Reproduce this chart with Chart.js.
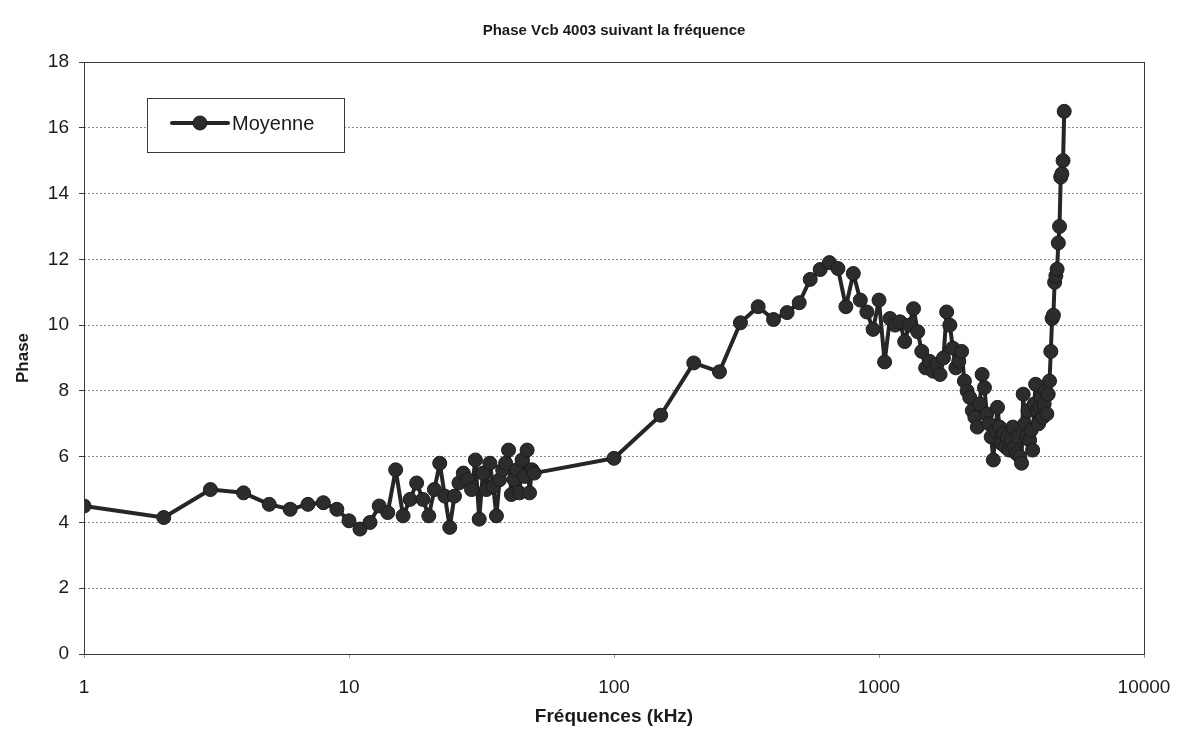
<!DOCTYPE html>
<html>
<head>
<meta charset="utf-8">
<script src="https://cdn.jsdelivr.net/npm/chart.js@4.4.1/dist/chart.umd.min.js"></script>
<style>
  html, body { margin: 0; padding: 0; background: #ffffff; }
  canvas { display: block; }
</style>
</head>
<body>
<canvas id="chart" width="1177" height="733"></canvas>
<script>
// Measurement frequencies (kHz)
const frequencies = [
  1, 2, 3, 4, 5, 6, 7, 8, 9, 10,
  11, 12, 13, 14, 15, 16, 17, 18, 19, 20,
  21, 22, 23, 24, 25, 26, 27, 28, 29, 30,
  31, 32, 33, 34, 35, 36, 37, 38, 39, 40,
  41, 42, 43, 44, 45, 46, 47, 48, 49, 50,
  100, 150, 200, 250, 300, 350, 400, 450, 500, 550,
  600, 650, 700, 750, 800, 850, 900, 950, 1000,
  1050, 1100, 1150, 1200, 1250, 1300, 1350, 1400, 1450, 1500,
  1550, 1600, 1650, 1700, 1750, 1800, 1850, 1900, 1950, 2000,
  2050, 2100, 2150, 2200, 2250, 2300, 2350, 2400, 2450, 2500,
  2550, 2600, 2650, 2700, 2750, 2800, 2850, 2900, 2950, 3000,
  3050, 3100, 3150, 3200, 3250, 3300, 3350, 3400, 3450, 3500,
  3550, 3600, 3650, 3700, 3750, 3800, 3850, 3900, 3950, 4000,
  4050, 4100, 4150, 4200, 4250, 4300, 4350, 4400, 4450, 4500,
  4550, 4600, 4650, 4700, 4750, 4800, 4850, 4900, 4950, 5000
];

// Average phase at each frequency
const phaseMoyenne = [
  4.5, 4.15, 5.0, 4.9, 4.55, 4.4, 4.55, 4.6, 4.4, 4.05,
  3.8, 4.0, 4.5, 4.3, 5.6, 4.2, 4.7, 5.2, 4.7, 4.2,
  5.0, 5.8, 4.8, 3.85, 4.8, 5.2, 5.5, 5.3, 5.0, 5.9,
  4.1, 5.5, 5.0, 5.8, 5.1, 4.2, 5.3, 5.6, 5.8, 6.2,
  4.85, 5.3, 5.6, 4.9, 5.9, 5.4, 6.2, 4.9, 5.6, 5.5,
  5.95, 7.26, 8.85, 8.58, 10.07, 10.56, 10.17, 10.38, 10.68, 11.39,
  11.69, 11.9, 11.72, 10.56, 11.57, 10.76, 10.4, 9.87, 10.76,
  8.88, 10.2, 10.0, 10.1, 9.5, 10.0, 10.5, 9.8, 9.2, 8.7,
  8.9, 8.6, 8.8, 8.5, 9.0, 10.4, 10.0, 9.3, 8.7, 8.9,
  9.2, 8.3, 8.0, 7.8, 7.4, 7.2, 6.9, 7.6, 8.5, 8.1,
  7.3, 7.0, 6.6, 5.9, 6.8, 7.5, 6.9, 6.4, 6.7, 6.3,
  6.6, 6.2, 6.5, 6.9, 6.3, 6.1, 6.6, 6.0, 5.8, 7.9,
  7.0, 6.6, 7.4, 6.5, 6.8, 6.2, 7.6, 8.2, 7.4, 7.0,
  7.5, 7.8, 7.2, 7.6, 8.0, 7.3, 7.9, 8.3, 9.2, 10.2,
  10.3, 11.3, 11.5, 11.7, 12.5, 13.0, 14.5, 14.6, 15.0, 16.5
];

// Axis tick values
const xTickValues = [1, 10, 100, 1000, 10000];
const yTickValues = [0, 2, 4, 6, 8, 10, 12, 14, 16, 18];

const chartTitle = 'Phase Vcb 4003 suivant la fréquence';
const xAxisTitle = 'Fréquences (kHz)';
const yAxisTitle = 'Phase';
const seriesName = 'Moyenne';

const FONT = "'Liberation Sans', Arial, Helvetica, sans-serif";
const INK = '#1a1a1a';
const LINE = '#262626';
const MARK = '#2c2c2c';

// Chart title, centred over the plotting area
const centredTitle = {
  id: 'centredTitle',
  afterDraw(chart) {
    const { ctx, chartArea: a } = chart;
    ctx.save();
    ctx.fillStyle = INK;
    ctx.font = `bold 15px ${FONT}`;
    ctx.textAlign = 'center';
    ctx.textBaseline = 'middle';
    ctx.fillText(chartTitle, (a.left + a.right) / 2, 31);
    ctx.restore();
  }
};

// Frame around the plotting area
const frameBorder = {
  id: 'frameBorder',
  afterDraw(chart) {
    const { ctx, chartArea: a } = chart;
    ctx.save();
    ctx.strokeStyle = '#3a3a3a';
    ctx.lineWidth = 1;
    ctx.strokeRect(Math.round(a.left) + 0.5, Math.round(a.top) + 0.5,
                   Math.round(a.right - a.left), Math.round(a.bottom - a.top));
    ctx.restore();
  }
};

// Boxed legend sitting inside the plot area, top left
const boxedLegend = {
  id: 'boxedLegend',
  afterDraw(chart) {
    const { ctx, chartArea: a } = chart;
    const ds = chart.data.datasets[0];
    const bx = a.left + 63, by = a.top + 36, bw = 197, bh = 54;
    ctx.save();
    ctx.fillStyle = '#ffffff';
    ctx.fillRect(bx, by, bw, bh);
    ctx.strokeStyle = '#3a3a3a';
    ctx.lineWidth = 1;
    ctx.strokeRect(bx + 0.5, by + 0.5, bw, bh);
    const cy = by + 25;
    ctx.strokeStyle = ds.borderColor;
    ctx.lineWidth = ds.borderWidth;
    ctx.lineCap = 'round';
    ctx.beginPath();
    ctx.moveTo(bx + 25, cy);
    ctx.lineTo(bx + 81, cy);
    ctx.stroke();
    ctx.beginPath();
    ctx.arc(bx + 53, cy, ds.pointRadius, 0, Math.PI * 2);
    ctx.fillStyle = ds.pointBackgroundColor;
    ctx.fill();
    ctx.lineWidth = ds.pointBorderWidth;
    ctx.strokeStyle = ds.pointBorderColor;
    ctx.stroke();
    ctx.fillStyle = INK;
    ctx.font = `20px ${FONT}`;
    ctx.textAlign = 'left';
    ctx.textBaseline = 'middle';
    ctx.fillText(ds.label, bx + 85, cy + 1);
    ctx.restore();
  }
};

new Chart(document.getElementById('chart'), {
  type: 'line',
  data: {
    datasets: [{
      label: seriesName,
      data: frequencies.map((f, i) => ({ x: f, y: phaseMoyenne[i] })),
      borderColor: LINE,
      borderWidth: 4,
      borderJoinStyle: 'round',
      borderCapStyle: 'round',
      pointRadius: 7,
      pointBackgroundColor: MARK,
      pointBorderColor: '#1c1c1c',
      pointBorderWidth: 1,
      tension: 0,
      fill: false
    }]
  },
  options: {
    responsive: false,
    animation: false,
    events: [],
    layout: { padding: { left: 0, right: 33, top: 62, bottom: 0 } },
    plugins: {
      legend: { display: false },
      tooltip: { enabled: false },
      title: { display: false }
    },
    scales: {
      x: {
        type: 'logarithmic',
        min: 1,
        max: 10000,
        afterBuildTicks(scale) {
          scale.ticks = xTickValues.map(v => ({ value: v }));
        },
        afterFit(scale) {
          scale.height = 79;
          scale.paddingLeft = 0;
          scale.paddingRight = 0;
        },
        ticks: {
          autoSkip: false,
          maxRotation: 0,
          minRotation: 0,
          padding: 18,
          color: INK,
          font: { family: FONT, size: 19 },
          callback: v => String(v)
        },
        grid: {
          drawOnChartArea: false,
          drawTicks: true,
          tickLength: 4,
          tickColor: '#9a9a9a'
        },
        border: { display: false },
        title: {
          display: true,
          text: xAxisTitle,
          color: INK,
          font: { family: FONT, size: 19, weight: 'bold' },
          padding: { top: 0, bottom: 5 }
        }
      },
      y: {
        min: 0,
        max: 18,
        afterBuildTicks(scale) {
          scale.ticks = yTickValues.map(v => ({ value: v }));
        },
        afterFit(scale) {
          scale.width = 84;
          scale.paddingTop = 0;
          scale.paddingBottom = 0;
        },
        ticks: {
          padding: 10,
          color: INK,
          font: { family: FONT, size: 19 }
        },
        grid: {
          color: '#8c8c8c',
          lineWidth: 1,
          tickLength: 5,
          tickColor: '#3a3a3a',
          tickBorderDash: []
        },
        border: { display: false, dash: [2, 2] },
        title: {
          display: true,
          text: yAxisTitle,
          color: INK,
          font: { family: FONT, size: 17, weight: 'bold' },
          padding: { top: 13, bottom: 0 }
        }
      }
    }
  },
  plugins: [centredTitle, frameBorder, boxedLegend]
});
</script>
</body>
</html>
